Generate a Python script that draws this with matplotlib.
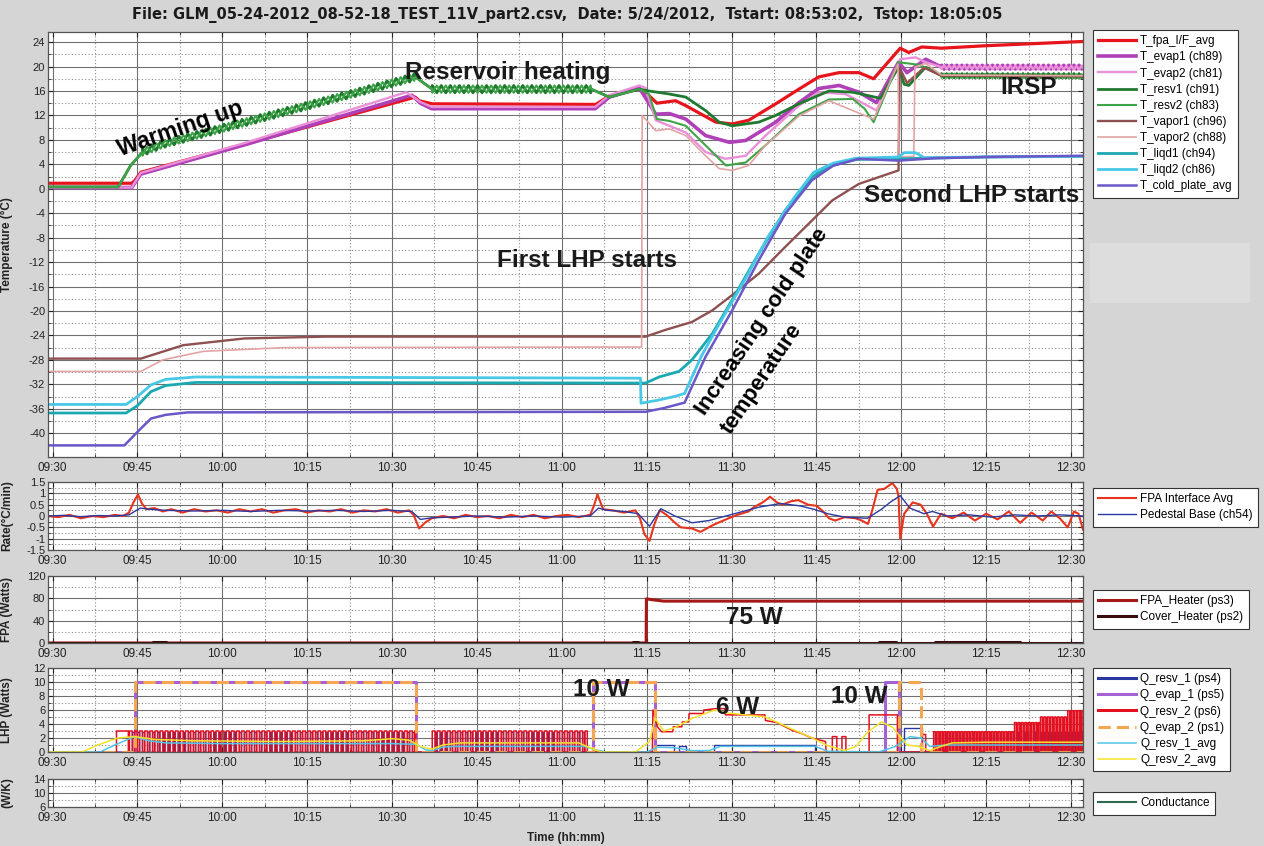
import numpy as np
import matplotlib.pyplot as plt
from matplotlib.ticker import MultipleLocator, FixedLocator, FuncFormatter
from matplotlib.patches import Rectangle

plt.rcParams['font.family'] = ['Liberation Sans', 'DejaVu Sans']
plt.rcParams['axes.unicode_minus'] = False

# time axis: minutes after 09:00
T0, T1 = 29.2, 212.1

# ---- temperatures (deg C) ----
fpa_t = [29.2, 44.0, 44.5, 45.6, 64.0, 94.1, 94.8, 97.1, 126.0, 128.4, 133.7, 134.8, 136.8, 140.1,
         141.9, 147.2, 150.1, 153.0, 157.8, 161.9, 165.4, 169.0, 172.5, 175.1, 179.8, 181.3, 183.6,
         187.1, 194.8, 212.1]
fpa_v = [0.9, 0.9, 1.3, 2.7, 7.3, 15.0, 14.4, 13.9, 13.8, 15.2, 16.3, 15.8, 14.0, 14.4,
         13.6, 10.9, 10.6, 11.2, 13.9, 16.3, 18.3, 19.0, 19.0, 18.0, 23.0, 22.3, 23.2,
         23.0, 23.4, 24.1]

evap1_t = [29.2, 44.0, 45.6, 64.0, 93.5, 95.0, 97.0, 125.9, 128.4, 133.7, 136.6, 139.0, 141.9,
           145.4, 149.6, 152.5, 157.8, 161.9, 165.4, 169.0, 172.5, 175.6, 179.5, 181.0, 184.3,
           187.1, 212.1]
evap1_v = [0.2, 0.2, 2.4, 7.2, 15.3, 14.0, 13.1, 13.1, 15.0, 16.5, 12.2, 12.3, 11.4,
           8.7, 7.6, 7.9, 10.9, 14.1, 16.4, 16.9, 15.8, 14.1, 20.7, 19.0, 21.2,
           19.9, 19.9]

evap2_t = [29.2, 44.0, 45.6, 64.0, 92.5, 95.0, 97.0, 125.9, 128.4, 133.7, 134.8, 136.6, 139.0,
           141.9, 145.4, 148.9, 152.5, 156.0, 161.9, 165.4, 170.1, 173.0, 175.6, 179.8, 182.5,
           184.3, 187.1, 212.1]
evap2_v = [0.2, 0.2, 2.6, 7.5, 15.8, 14.2, 13.4, 13.4, 15.3, 16.9, 16.5, 11.2, 10.3,
           9.2, 6.0, 4.9, 5.4, 8.7, 13.6, 15.8, 15.5, 14.1, 12.8, 21.2, 21.5,
           20.7, 19.9, 19.8]

resv1_t = [29.2, 41.6, 43.8, 45.9, 49.5, 78.3, 94.1, 97.1, 125.2, 128.4, 133.7, 135.4, 139.0,
           141.9, 145.4, 147.8, 150.1, 154.8, 157.8, 161.9, 167.2, 171.4, 176.3, 179.5, 180.5,
           181.3, 184.3, 187.1, 212.1]
resv1_v = [0.3, 0.3, 3.8, 6.0, 7.3, 14.4, 18.3, 16.3, 16.3, 15.0, 16.3, 16.0, 15.5,
           15.0, 12.8, 10.9, 10.3, 10.9, 12.0, 13.9, 16.0, 15.8, 14.8, 19.9, 17.1,
           16.9, 19.9, 18.5, 18.5]

resv2_t = [29.2, 41.6, 43.8, 45.9, 49.5, 78.3, 94.1, 97.1, 125.2, 128.4, 133.7, 135.4, 136.8,
           139.0, 141.9, 145.4, 149.0, 152.5, 156.0, 161.9, 167.2, 171.4, 173.5, 175.1, 179.5,
           183.0, 184.3, 187.1, 212.1]
resv2_v = [0.3, 0.3, 3.8, 6.0, 7.3, 14.4, 18.3, 16.3, 16.3, 15.0, 16.3, 15.5, 11.4,
           11.1, 10.3, 7.1, 3.8, 4.3, 7.1, 12.2, 14.6, 14.7, 13.1, 10.9, 20.7,
           20.3, 19.8, 18.5, 18.4]

vapor1_t = [29.2, 45.6, 53.1, 63.9, 78.3, 134.8, 138.3, 143.0, 146.6, 150.1, 154.8, 159.5,
            164.2, 167.8, 172.5, 179.5, 179.7, 181.0, 184.0, 187.1, 212.1]
vapor1_v = [-27.8, -27.8, -25.6, -24.5, -24.2, -24.2, -23.1, -21.8, -19.9, -17.4, -13.9, -9.5,
            -5.2, -1.9, 0.8, 3.0, 19.8, 17.3, 19.8, 18.5, 18.4]

vapor2_t = [29.2, 45.6, 49.5, 56.7, 71.1, 134.1, 134.2, 136.6, 139.0, 141.9, 145.4, 147.8,
            150.1, 153.0, 156.0, 161.9, 167.2, 175.1, 179.4, 179.6, 182.2, 182.4, 184.3,
            187.1, 212.1]
vapor2_v = [-29.9, -29.9, -28.0, -26.6, -26.0, -25.9, 12.0, 9.5, 9.8, 8.7, 5.4, 3.3,
            3.0, 3.8, 7.1, 11.9, 14.4, 11.4, 20.4, 5.2, 5.3, 19.9, 20.5,
            18.6, 18.5]

liqd1_t = [29.2, 43.0, 45.0, 47.4, 50.0, 55.3, 134.8, 137.2, 140.7, 143.0, 146.6, 150.1, 154.8,
           159.5, 164.2, 167.0, 172.0, 179.5, 185.0, 195.0, 212.1]
liqd1_v = [-36.7, -36.7, -35.5, -33.2, -32.2, -31.7, -31.8, -30.8, -29.9, -28.0, -23.7, -18.2, -10.6,
           -3.5, 1.9, 3.6, 4.8, 4.9, 5.0, 5.2, 5.3]

liqd2_t = [29.2, 43.0, 45.0, 47.4, 50.0, 55.3, 133.9, 134.0, 137.0, 139.9, 141.7, 144.6, 148.2,
           152.3, 156.4, 161.1, 164.5, 168.0, 172.0, 179.5, 180.5, 182.5, 184.0, 195.0, 212.1]
liqd2_v = [-35.3, -35.3, -34.0, -32.1, -31.2, -30.8, -31.0, -35.1, -34.6, -34.0, -33.5, -27.5, -21.5,
           -15.0, -7.9, -1.4, 2.7, 4.2, 5.0, 5.2, 5.9, 5.9, 5.1, 5.2, 5.3]

cold_t = [29.2, 42.7, 45.0, 47.4, 50.0, 53.9, 134.8, 138.0, 141.7, 145.4, 150.1, 154.8, 159.5,
          164.2, 168.0, 172.5, 179.5, 186.0, 195.0, 212.1]
cold_v = [-42.0, -42.0, -39.8, -37.6, -37.0, -36.6, -36.5, -35.9, -35.0, -27.5, -19.9, -11.7, -4.1,
          1.4, 3.8, 4.9, 4.6, 5.0, 5.2, 5.4]

# reservoir controller cycling: (start, stop, period, amplitude)
resv_cycles = [(45.9, 94.1, 1.6, 0.6), (97.1, 125.2, 1.6, 0.6), (187.1, 212.1, 0.9, 0.35)]
evap_cycles = [(187.1, 212.1, 0.9, 0.3)]

# ---- rates (deg C / min) ----
rate_fpa_t = [29.2, 31, 33, 35, 37, 39, 41, 42.5, 43.5, 44.3, 45.1, 45.8, 46.6, 48, 49.5, 51, 53, 55,
              57, 59, 61, 63, 65, 67, 69, 71, 73, 75, 77, 79, 81, 83, 85, 87, 89, 91, 93, 93.8,
              94.8, 95.8, 97, 99, 101, 103, 105, 107, 109, 111, 113, 115, 117, 119, 121, 123, 125,
              125.6, 126.3, 127.3, 129, 131, 133, 133.8, 134.6, 135.5, 136.3, 137.3, 138.5, 140,
              141, 143, 144.5, 146.7, 149, 151, 153, 154, 155.5, 156.8, 158, 159, 160.5, 161.8,
              163.5, 165, 166.2, 167.2, 168.3, 170, 171.9, 173, 174.1, 174.8, 175.8, 177, 178.4,
              179.2, 179.5, 179.8, 180.5, 182, 183.4, 184.5, 185.6, 187, 189, 191, 193, 195, 197,
              199, 201, 203, 205, 206.5, 208, 209.4, 210.5, 211.3, 212.1]
rate_fpa_v = [0.0, -0.05, 0.05, -0.1, 0.0, -0.05, 0.05, 0.0, 0.15, 0.6, 0.95, 0.55, 0.3, 0.35, 0.2,
              0.3, 0.15, 0.3, 0.2, 0.25, 0.15, 0.3, 0.2, 0.3, 0.15, 0.25, 0.3, 0.15, 0.25, 0.2, 0.3,
              0.15, 0.25, 0.2, 0.3, 0.15, 0.25, 0.05, -0.55, -0.3, -0.1, 0.0, -0.1, 0.05, -0.05,
              0.0, -0.1, 0.05, -0.05, 0.05, -0.1, 0.0, 0.05, -0.05, 0.05, 0.4, 0.95, 0.3, 0.25,
              0.15, 0.25, -0.1, -0.8, -1.1, -0.4, 0.25, 0.05, -0.3, -0.5, -0.55, -0.7, -0.4, -0.15,
              0.05, 0.2, 0.4, 0.6, 0.85, 0.6, 0.5, 0.65, 0.7, 0.5, 0.45, 0.2, -0.1, -0.2, -0.05,
              -0.1, -0.2, -0.35, 0.2, 1.15, 1.2, 1.45, 1.2, 0.85, -1.0, 0.1, 0.6, 0.5, 0.1, -0.47,
              0.1, -0.1, 0.15, -0.2, 0.1, -0.15, 0.2, -0.3, 0.15, -0.2, 0.2, -0.1, -0.5, 0.2, 0.1,
              -0.6]

rate_ped_t = [29.2, 32, 35, 38, 41, 43.5, 45.5, 47, 50, 55, 60, 65, 70, 75, 80, 85, 90, 93.5, 95,
              97, 100, 105, 110, 115, 120, 125, 126.5, 128, 131, 133.5, 135.5, 137.5, 140, 143,
              146, 149, 152, 155, 158.7, 162, 164.5, 167, 170, 174, 176.5, 178, 179.8, 181.5,
              184, 185.5, 188, 192, 196, 200, 204, 208, 212.1]
rate_ped_v = [0.0, 0.03, -0.03, 0.02, 0.0, 0.05, 0.35, 0.3, 0.25, 0.22, 0.25, 0.2, 0.25, 0.22,
              0.25, 0.2, 0.25, 0.2, -0.15, -0.08, -0.05, 0.0, -0.05, 0.0, -0.05, 0.0, 0.35,
              0.25, 0.2, 0.1, -0.45, 0.32, 0.0, -0.3, -0.2, 0.0, 0.2, 0.4, 0.55, 0.45, 0.3,
              0.1, -0.05, -0.1, 0.3, 0.6, 0.9, 0.35, 0.1, 0.2, 0.0, 0.05, -0.05, 0.05, 0.0,
              0.05, 0.0]

# ---- FPA heaters (W) ----
fpa_heater_t = [29.2, 134.9, 134.95, 136.0, 138.0, 212.1]
fpa_heater_v = [0, 0, 79, 77.5, 75, 75]
cover_blocks = [(47.8, 50.0, 1.5), (132.5, 133.5, 1.0), (176.0, 179.0, 1.2), (186.0, 201.0, 1.2)]

# ---- LHP heaters (W) ----
# pulse trains: (start, stop, period, height)
resv2_trains_a = [(43.6, 94.2, 0.9, 3.0), (97.1, 124.5, 0.9, 3.0)]
resv2_blocks_a = [(41.3, 43.4, 3.0)]
resv2_profile_t = [136.0, 136.1, 136.9, 137.6, 139.6, 139.7, 141.2, 141.3, 142.4, 142.5, 145.0,
                   145.1, 147.2, 148.8, 148.9, 155.9, 156.0, 158.0, 160.7, 162.5, 164.2, 166.6,
                   166.7]
resv2_profile_v = [0, 6.0, 3.6, 2.9, 2.9, 3.6, 3.6, 4.3, 4.3, 5.5, 5.5,
                   6.0, 6.2, 6.2, 5.3, 5.3, 4.5, 4.2, 3.1, 2.6, 2.0, 1.5, 0]
resv2_blocks_b = [(167.8, 168.6, 2.2), (169.5, 170.2, 2.2), (174.3, 179.3, 5.3), (183.7, 184.3, 2.5)]
resv2_trains_b = [(185.7, 200.0, 0.6, 2.9), (200.0, 204.6, 0.6, 4.2), (204.6, 209.4, 0.6, 5.0),
                  (209.4, 212.1, 0.6, 5.9)]

resv1_trains = [(44.05, 94.2, 0.9, 2.9), (97.55, 124.5, 0.9, 2.9), (186.0, 212.1, 0.6, 2.8)]
resv1_blocks = [(136.3, 139.8, 1.0), (140.7, 141.9, 0.9), (146.9, 164.8, 1.0), (180.5, 183.6, 3.5)]

evap1_blocks = [(44.5, 94.2, 10.0), (125.5, 136.5, 10.0), (177.1, 179.6, 10.0)]
evap2_blocks = [(44.5, 94.2, 10.0), (125.5, 136.5, 10.0), (179.6, 183.5, 10.0)]

avg1_t = [29.2, 38.4, 41.0, 44.5, 47.0, 50.0, 60.0, 90.0, 94.2, 96.0, 97.1, 99.0, 101.0, 124.0,
          126.0, 128.0, 135.0, 137.0, 140.0, 143.0, 146.0, 148.0, 164.8, 167.0, 176.0, 179.0,
          181.5, 183.5, 185.0, 188.0, 192.0, 212.1]
avg1_v = [0, 0, 1.0, 2.2, 1.6, 1.3, 1.2, 1.2, 1.1, 0.3, 0.2, 0.7, 0.8, 0.8,
          0.3, 0.0, 0.0, 0.7, 0.6, 0.2, 0.2, 0.8, 0.8, 0.1, 0.0, 0.8,
          2.2, 2.0, 0.8, 1.0, 1.0, 1.0]
avg2_t = [29.2, 35.2, 38.0, 41.5, 44.5, 48.0, 55.0, 70.0, 85.0, 90.0, 93.0, 95.0, 97.0, 99.0,
          102.0, 120.0, 123.0, 125.0, 127.0, 133.0, 135.5, 136.5, 138.0, 140.0, 143.0, 147.0,
          149.0, 156.0, 160.0, 164.0, 167.0, 170.0, 172.0, 174.0, 176.5, 178.5, 181.0, 183.0,
          185.0, 187.0, 189.0, 195.0, 212.1]
avg2_v = [0, 0, 1.0, 2.0, 2.2, 1.8, 1.6, 1.5, 1.6, 1.9, 1.7, 0.8, 0.4, 1.0,
          1.3, 1.3, 1.3, 0.6, 0.0, 0.0, 1.5, 4.8, 3.0, 3.5, 4.8, 6.0,
          5.6, 5.0, 3.5, 2.1, 0.9, 0.2, 0.8, 2.8, 4.3, 3.5, 1.0, 0.8,
          0.2, 0.8, 1.3, 1.4, 1.4]

title = ("File: GLM_05-24-2012_08-52-18_TEST_11V_part2.csv,  Date: 5/24/2012,  "
         "Tstart: 08:53:02,  Tstop: 18:05:05")


def rippled(t, v, cycles, sign=1):
    t = np.asarray(t, float)
    v = np.asarray(v, float)
    keep = np.ones(len(t), bool)
    ts, vs = [], []
    for a, b, period, amp in cycles:
        keep &= ~((t > a) & (t < b))
        s = np.arange(a, b, period / 2)
        alt = np.where(np.arange(len(s)) % 2 == 0, 1.0, -1.0) * sign
        ts.append(s)
        vs.append(np.interp(s, t, v) + alt * amp)
    tt = np.concatenate([t[keep]] + ts)
    vv = np.concatenate([v[keep]] + vs)
    order = np.argsort(tt, kind='stable')
    return tt[order], vv[order]


def train(a, b, period, h, duty=0.55):
    return [(s, min(s + duty * period, b), h) for s in np.arange(a, b, period)]


def square(blocks):
    t, v = [T0], [0.0]
    for a, b, h in sorted(blocks):
        t += [a, a, b, b]
        v += [0.0, h, h, 0.0]
    t.append(T1)
    v.append(0.0)
    return t, v


def hhmm(x, pos):
    m = int(round(x))
    return '%02d:%02d' % (9 + m // 60, m % 60)


W, H = 1264, 846
fig = plt.figure(figsize=(W / 100, H / 100), dpi=100, facecolor='#d5d5d5')


def panel(top, bottom):
    return fig.add_axes([48 / W, 1 - bottom / H, (1083 - 48) / W, (bottom - top) / H])


def style(ax, ylim, major, minor, ylabel):
    ax.set_xlim(T0, T1)
    ax.set_ylim(*ylim)
    ax.xaxis.set_major_locator(MultipleLocator(15))
    ax.xaxis.set_minor_locator(MultipleLocator(7.5))
    ax.xaxis.set_major_formatter(FuncFormatter(hhmm))
    if isinstance(major, list):
        ax.yaxis.set_major_locator(FixedLocator(major))
        ax.yaxis.set_minor_locator(FixedLocator(minor))
    else:
        ax.yaxis.set_major_locator(MultipleLocator(major))
        ax.yaxis.set_minor_locator(MultipleLocator(minor))
    ax.yaxis.set_major_formatter(FuncFormatter(lambda y, p: '%g' % y))
    ax.grid(which='major', color='#707070', lw=0.8, ls='-')
    ax.grid(which='minor', color='#8c8c8c', lw=0.8, ls=(0, (1, 2)))
    ax.set_axisbelow(True)
    ax.tick_params(which='both', direction='in', top=True, right=True, labelsize=8.5,
                   colors='#222222')
    ax.tick_params(axis='x', pad=3.5)
    ax.tick_params(axis='y', pad=2, labelsize=8)
    ax.tick_params(which='major', length=3.5)
    ax.tick_params(which='minor', length=2)
    for s in ax.spines.values():
        s.set_color('#555555')
        s.set_linewidth(0.9)
    ax.set_ylabel(ylabel, fontsize=8.5, fontweight='bold', color='#222222')
    ax.yaxis.set_label_coords(-35 / 1035, 0.5)


def legend(ax, top, **kw):
    leg = ax.legend(loc='upper left', bbox_to_anchor=(1093 / W, 1 - top / H),
                    bbox_transform=fig.transFigure, fancybox=False, framealpha=1,
                    edgecolor='#333333', fontsize=8.5, borderaxespad=0, handlelength=3.2,
                    handletextpad=0.35, labelspacing=0.35, borderpad=0.45, **kw)
    leg.get_frame().set_linewidth(0.8)
    return leg


ax_t = panel(31.7, 457)
ax_r = panel(482, 550)
ax_f = panel(576, 643)
ax_q = panel(668, 752)
ax_c = panel(779, 807)

# temperatures
ax_t.plot(fpa_t, fpa_v, color='#e8141c', lw=2.3, label='T_fpa_I/F_avg')
ax_t.plot(*rippled(evap1_t, evap1_v, evap_cycles), color='#b040b8', lw=2.6, label='T_evap1 (ch89)')
ax_t.plot(*rippled(evap2_t, evap2_v, evap_cycles, -1), color='#ea90d8', lw=1.7, label='T_evap2 (ch81)')
ax_t.plot(*rippled(resv1_t, resv1_v, resv_cycles), color='#1f7a30', lw=2.0, label='T_resv1 (ch91)')
ax_t.plot(*rippled(resv2_t, resv2_v, resv_cycles, -1), color='#3fa447', lw=1.5, label='T_resv2 (ch83)')
ax_t.plot(vapor1_t, vapor1_v, color='#8e5050', lw=1.7, label='T_vapor1 (ch96)')
ax_t.plot(vapor2_t, vapor2_v, color='#e2a4a4', lw=1.2, label='T_vapor2 (ch88)')
ax_t.plot(liqd1_t, liqd1_v, color='#1aa9b0', lw=2.0, label='T_liqd1 (ch94)')
ax_t.plot(liqd2_t, liqd2_v, color='#46c8e6', lw=2.0, label='T_liqd2 (ch86)')
ax_t.plot(cold_t, cold_v, color='#6a58c8', lw=1.8, label='T_cold_plate_avg')
style(ax_t, (-43.9, 25.7), 4, 2, 'Temperature (°C)')
legend(ax_t, 30)

# rates
ax_r.plot(rate_fpa_t, rate_fpa_v, color='#e8341c', lw=1.5, label='FPA Interface Avg')
ax_r.plot(rate_ped_t, rate_ped_v, color='#2a3aa0', lw=1.0, label='Pedestal Base (ch54)')
style(ax_r, (-1.5, 1.5), 0.5, 0.25, 'Rate(°C/min)')
legend(ax_r, 488)

# FPA heaters
ax_f.plot(fpa_heater_t, fpa_heater_v, color='#a41818', lw=2.2, label='FPA_Heater (ps3)')
ax_f.plot(*square(cover_blocks), color='#3a0c0c', lw=2.2, label='Cover_Heater (ps2)')
style(ax_f, (0, 120), 40, 20, 'FPA (Watts)')
legend(ax_f, 590)

# LHP heaters
r1_blocks = resv1_blocks + [blk for tr in resv1_trains for blk in train(*tr, duty=0.3)]
ax_q.plot(*square(r1_blocks), color='#2838a0', lw=1.0, label='Q_resv_1 (ps4)')
ax_q.plot(*square(evap1_blocks), color='#a462d4', lw=2.2, label='Q_evap_1 (ps5)')
ra = resv2_blocks_a + [blk for tr in resv2_trains_a for blk in train(*tr)]
rb = resv2_blocks_b + [blk for tr in resv2_trains_b for blk in train(*tr)]
ta, va = square(ra)
tb, vb = square(rb)
red_t = ta[:-1] + resv2_profile_t + tb[1:]
red_v = va[:-1] + resv2_profile_v + vb[1:]
ax_q.plot(red_t, red_v, color='#e41020', lw=1.1, label='Q_resv_2 (ps6)')
ax_q.plot(*square(evap2_blocks), color='#f5a650', lw=2.2, ls=(0, (4, 2)), label='Q_evap_2 (ps1)')
ax_q.plot(avg1_t, avg1_v, color='#52c4e6', lw=1.1, label='Q_resv_1_avg')
ax_q.plot(avg2_t, avg2_v, color='#f2e22a', lw=1.1, label='Q_resv_2_avg')
style(ax_q, (0, 12), 2, 1, 'LHP (Watts)')
leg = legend(ax_q, 668)
for line in leg.get_lines()[:3]:
    line.set_linewidth(2.2)

# conductance
ax_c.plot([], [], color='#2a6a50', lw=1.5, label='Conductance')
style(ax_c, (6, 14), [6, 10, 14], [8, 12], '(W/K)')
legend(ax_c, 792)

# annotations
note = dict(fontsize=17.5, fontweight='bold', color='#1a1a1a')
ax_t.text(92.2, 19.0, 'Reservoir heating', ha='left', va='center', **note)
ax_t.text(52.5, 9.8, 'Warming up', ha='center', va='center', rotation=19,
          fontsize=16.5, fontweight='heavy', color='black')
ax_t.text(202.5, 16.5, 'IRSP', ha='center', va='center', **note)
ax_t.text(173.4, -1.1, 'Second LHP starts', ha='left', va='center', **note)
ax_t.text(108.6, -11.7, 'First LHP starts', ha='left', va='center', **note)
rot = dict(ha='center', va='center', rotation=56, rotation_mode='anchor',
           fontsize=16, fontweight='heavy', color='black')
ax_t.text(155.4, -21.8, 'Increasing cold plate', **rot)
ax_t.text(155.4, -31.1, 'temperature', **rot)
ax_f.text(154.1, 46, '75 W', ha='center', va='center', **note)
ax_q.text(126.9, 8.9, '10 W', ha='center', va='center', **note)
ax_q.text(151.0, 6.4, '6 W', ha='center', va='center', **note)
ax_q.text(172.5, 7.9, '10 W', ha='center', va='center', **note)

fig.text(567 / W, 1 - 15 / H, title, ha='center', va='center', fontsize=10.5,
         fontweight='bold', family='DejaVu Sans', color='#1a1a1a')
fig.text(565.5 / W, 1 - 838 / H, 'Time (hh:mm)', ha='center', va='center', fontsize=8.5,
         fontweight='bold', color='#222222')
fig.patches.append(Rectangle((1090 / W, 1 - 303 / H), 160 / W, 60 / H, transform=fig.transFigure,
                             facecolor='#dddddd', edgecolor='none'))

fig.savefig('out.png', dpi=100, facecolor=fig.get_facecolor())
